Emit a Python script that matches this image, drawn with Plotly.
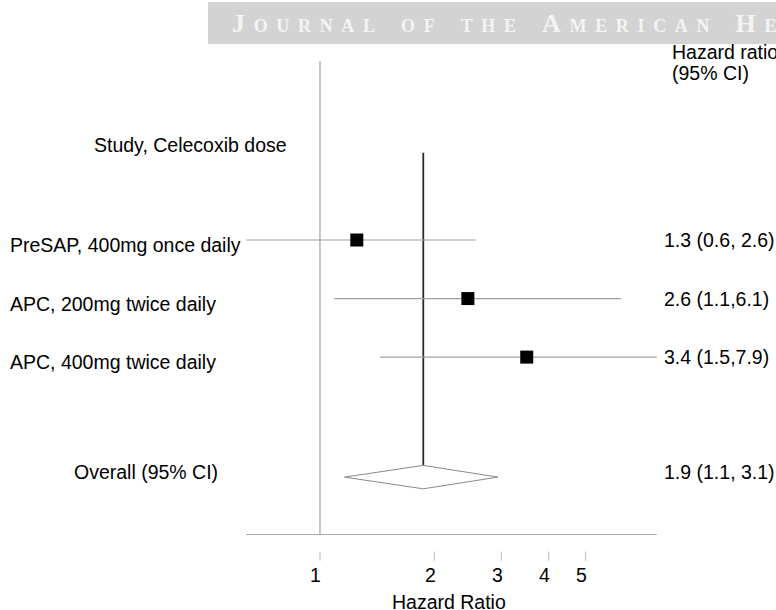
import numpy as np
import plotly.graph_objects as go

# ---------------- data ----------------
studies = ["PreSAP, 400mg once daily", "APC, 200mg twice daily", "APC, 400mg twice daily"]
study_rows = [1, 2, 3]
hr = [1.25, 2.45, 3.5]
ci_low = [0.64, 1.09, 1.44]
ci_high = [2.57, 6.2, 7.7]
hr_text = ["1.3 (0.6, 2.6)", "2.6 (1.1,6.1)", "3.4 (1.5,7.9)"]

overall_label = "Overall (95% CI)"
overall_row = 5.05
overall_hr = 1.87
overall_low = 1.16
overall_high = 2.94
overall_text = "1.9 (1.1, 3.1)"

tick_vals = [1, 2, 3, 4, 5]
tick_text = ["1", "2", "3", "4", "5"]

# ---------------- figure ----------------
W, H = 776, 610
FONT = "Liberation Sans, Arial, Helvetica, sans-serif"
FS = 19.5

fig = go.Figure()

# reference line at HR = 1
fig.add_trace(go.Scatter(x=[1, 1], y=[-2.06, 6.03], mode="lines",
                         line=dict(color="#b5b5b5", width=1.5), hoverinfo="skip"))
# x axis line
fig.add_trace(go.Scatter(x=[0.64, 7.7], y=[6.03, 6.03], mode="lines",
                         line=dict(color="#a8a8a8", width=1.2), hoverinfo="skip"))
# detached tick marks
tx, ty = [], []
for v in tick_vals:
    tx += [v, v, None]
    ty += [6.32, 6.48, None]
fig.add_trace(go.Scatter(x=tx, y=ty, mode="lines",
                         line=dict(color="#c4c4c4", width=1.2), hoverinfo="skip"))

# overall vertical line
dh = 0.2
fig.add_trace(go.Scatter(x=[overall_hr, overall_hr], y=[-0.49, overall_row - dh], mode="lines",
                         line=dict(color="#2a2a2a", width=1.8), hoverinfo="skip"))

# CI lines
cx, cy = [], []
for lo, hi, r in zip(ci_low, ci_high, study_rows):
    cx += [lo, hi, None]
    cy += [r, r, None]
fig.add_trace(go.Scatter(x=cx, y=cy, mode="lines",
                         line=dict(color="#a0a0a0", width=1.2), hoverinfo="skip"))

# point estimates
fig.add_trace(go.Scatter(x=hr, y=study_rows, mode="markers",
                         marker=dict(symbol="square", size=13, color="black",
                                     line=dict(width=0)), hoverinfo="skip"))

# overall diamond
fig.add_trace(go.Scatter(
    x=[overall_low, overall_hr, overall_high, overall_hr, overall_low],
    y=[overall_row, overall_row - dh, overall_row, overall_row + dh, overall_row],
    mode="lines", fill="toself", fillcolor="white",
    line=dict(color="#8a8a8a", width=1), hoverinfo="skip"))

ann = []
def txt(text, x, y, xanchor="left", yanchor="middle", xref="paper", yref="y",
        size=FS, color="black", yshift=0, xshift=0, family=FONT, **kw):
    ann.append(dict(text=text, x=x, y=y, xref=xref, yref=yref, xanchor=xanchor,
                    yanchor=yanchor, showarrow=False, yshift=yshift, xshift=xshift,
                    font=dict(family=family, size=size, color=color, **kw)))

# headers
txt("Study, Celecoxib dose", 190 / W, -0.62, xanchor="center")
txt("Hazard ratio", 670 / W, -2.21)
txt("(95% CI)", 670 / W, -1.86)

# study labels and HR text
for s, r, t in zip(studies, study_rows, hr_text):
    txt(s, 8 / W, r, yshift=-5)
    txt(t, 662 / W, r)
txt(overall_label, 146 / W, overall_row, xanchor="center", yshift=5)
txt(overall_text, 662 / W, overall_row, yshift=5)

# tick labels and axis title
for v, t in zip(tick_vals, tick_text):
    ann.append(dict(text=t, x=np.log10(v), y=6.73, xref="x", yref="y", showarrow=False,
                    xanchor="center", yanchor="middle", xshift=-4,
                    font=dict(family=FONT, size=FS, color="black")))
ann.append(dict(text="Hazard Ratio", x=449 / W, y=7.19, xref="paper", yref="y",
                showarrow=False, xanchor="center", yanchor="middle",
                font=dict(family=FONT, size=FS, color="black")))

# journal banner
words = ["Journal", "of", "the", "American", "Heart"]
banner = "\u2002\u2002".join("\u2004".join(list(w)) for w in words)
ann.append(dict(text=banner, x=230 / W, y=1 - 24 / H, xref="paper", yref="paper",
                showarrow=False, xanchor="left", yanchor="middle",
                font=dict(family="Liberation Serif, Times New Roman, serif", size=26,
                          color="#f4f4f4", variant="small-caps", weight="bold")))

fig.update_layout(
    width=W, height=H,
    margin=dict(l=0, r=0, t=0, b=0),
    paper_bgcolor="white", plot_bgcolor="white",
    showlegend=False,
    xaxis=dict(type="log", range=[-0.842, 1.2], visible=False, fixedrange=True),
    yaxis=dict(range=[7.32, -3.10], visible=False, fixedrange=True),
    shapes=[dict(type="rect", xref="paper", yref="paper", x0=208 / W, x1=1,
                 y0=1 - 44 / H, y1=1 - 2 / H, fillcolor="#d3d3d3",
                 line=dict(width=0), layer="below")],
    annotations=ann,
)

fig.write_html("out.html", config={"displayModeBar": False},
               post_script="document.body.style.margin='0';"
                           "document.body.style.overflow='hidden';")
